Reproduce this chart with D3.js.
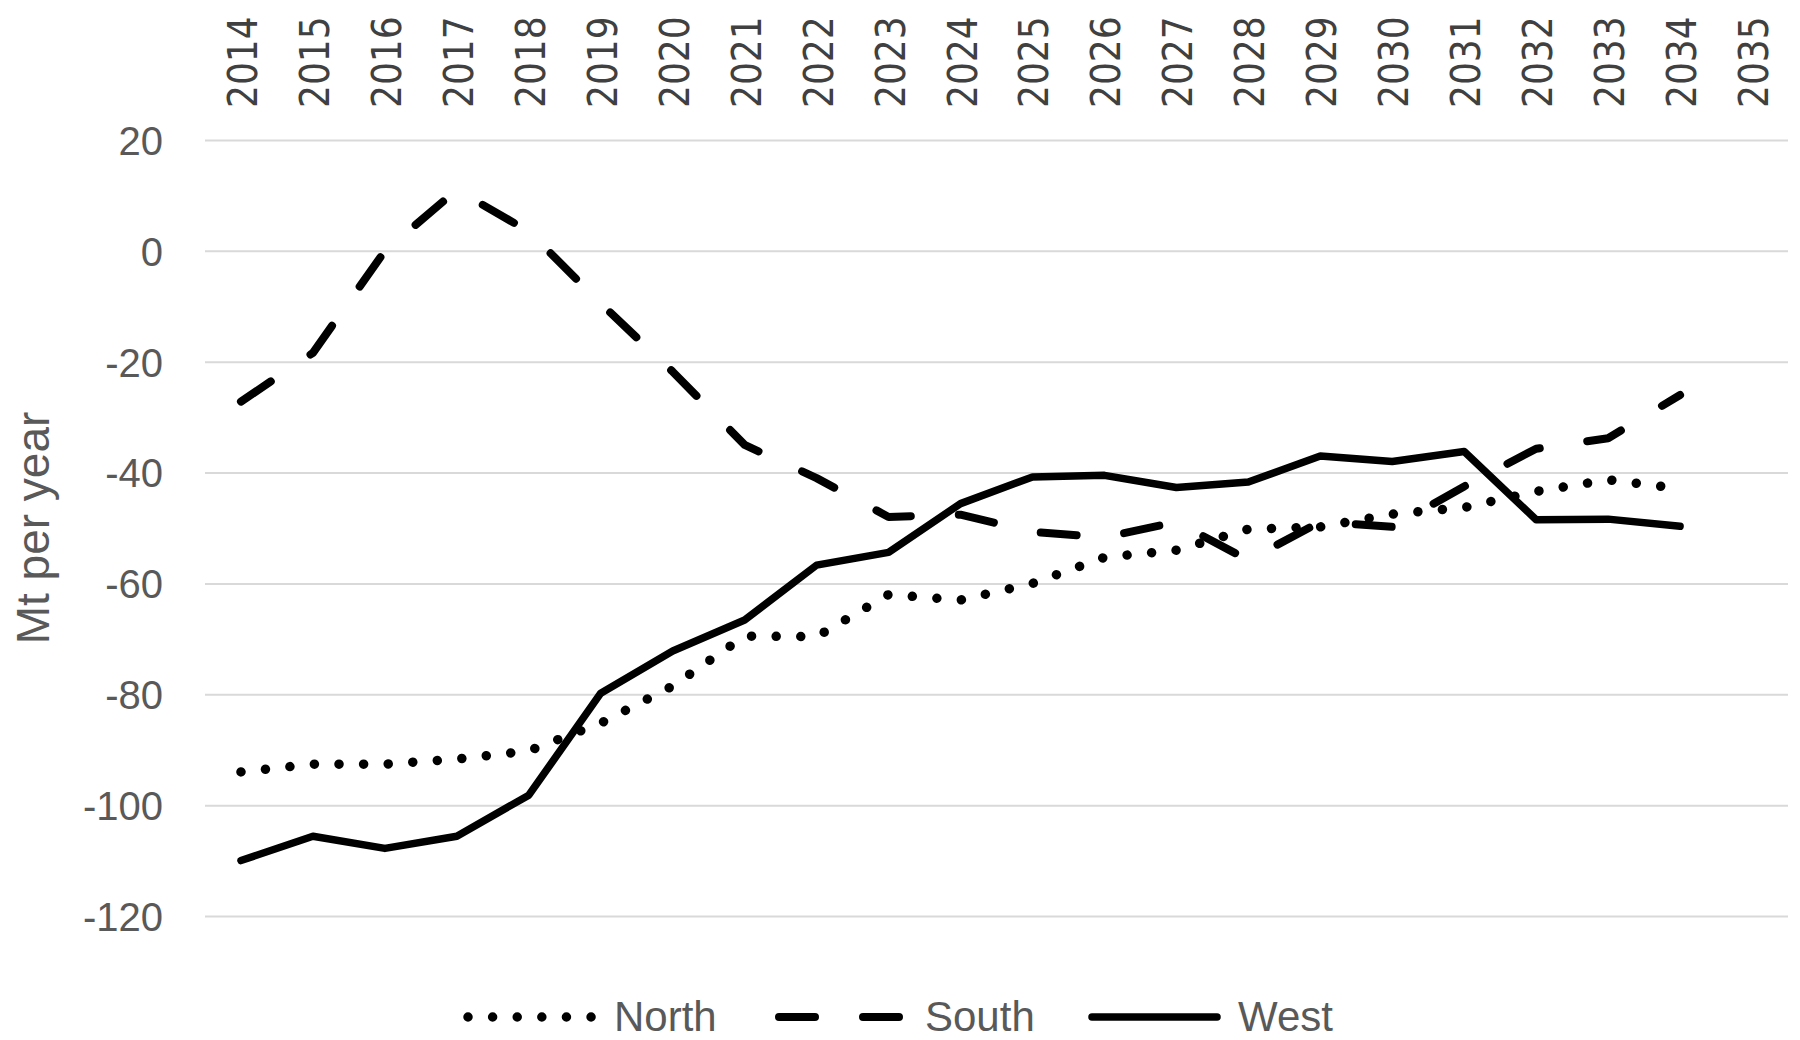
<!DOCTYPE html>
<html>
<head>
<meta charset="utf-8">
<script src="https://cdn.jsdelivr.net/npm/d3@7"></script>
<style>
	html, body { margin: 0; padding: 0; background: #fff; }
	svg { display: block; }
</style>
</head>
<body>
<svg width="1800" height="1040"></svg>
<script>
// chart values
const years = ["2014","2015","2016","2017","2018","2019","2020","2021","2022","2023","2024",
	"2025","2026","2027","2028","2029","2030","2031","2032","2033","2034","2035"]
const yTicks = [20, 0, -20, -40, -60, -80, -100, -120]
const north = [-94,-92.6,-92.6,-91.7,-90.2,-85.2,-78.5,-69.5,-69.6,-62,-63,-60,-55.3,-54,-50.2,-49.8,-47.5,-46.3,-43.4,-41.3,-42.9]
const south = [-27.2,-18.4,0,11,3.5,-9.5,-21.8,-35,-41,-48,-47.6,-50.7,-51.7,-48.9,-55.8,-48.9,-49.8,-42.5,-35.7,-33.8,-26]
const west = [-110,-105.6,-107.8,-105.6,-98.2,-79.8,-72.2,-66.6,-56.7,-54.4,-45.6,-40.8,-40.5,-42.7,-41.7,-37,-38,-36.2,-48.5,-48.4,-49.7]
const seriesNames = ["North","South","West"]

const textCol = "#595959"
const font = "'Liberation Sans', Arial, sans-serif"

const plotL = 205, plotR = 1788, plotT = 140, plotB = 916

const svg = d3.select("svg")

const x = d3.scalePoint().domain(years).range([plotL, plotR]).padding(0.5)
const y = d3.scaleLinear().domain([-120, 20]).range([plotB, plotT])

// gridlines + y labels (plain hyphen like the original)
svg.append("g")
	.attr("transform", `translate(${plotL},0)`)
	.call(d3.axisLeft(y).tickValues(yTicks).tickSize(-(plotR-plotL)).tickPadding(42).tickFormat(d=>String(d)))
	.call(g=>{
		g.select(".domain").remove()
		g.selectAll(".tick line").attr("stroke", "#d9d9d9").attr("stroke-width", 2)
		g.selectAll(".tick text")
			.attr("fill", textCol)
			.attr("font-family", font)
			.attr("font-size", 40)
			.attr("dy", "0.36em")
	})

// year labels on top, rotated
svg.append("g")
	.selectAll("text")
	.data(years)
	.join("text")
	  .attr("transform", d=>`translate(${x(d)+16},108) rotate(-90)`)
	  .attr("fill", "#404040")
	  .attr("font-family", "'DejaVu Sans Condensed', 'Liberation Sans', sans-serif")
	  .attr("font-stretch", "condensed")
	  .attr("font-size", 40)
	  .text(d=>d)

// axis title
svg.append("text")
	.attr("transform", "translate(49,528) rotate(-90)")
	.attr("text-anchor", "middle")
	.attr("fill", textCol)
	.attr("font-family", font)
	.attr("font-size", 46)
	.text("Mt per year")

const styles = {
	North: {dash: "0.01,24.6", width: 9.5},
	South: {dash: "36,48", width: 8},
	West: {dash: null, width: 7.5}
}

const line = d3.line()
	.x((d,i)=>x(years[i]))
	.y(d=>y(d))

const data = [north, south, west]
data.forEach((vals, k)=>{
	let st = styles[seriesNames[k]]
	svg.append("path")
		.datum(vals)
		.attr("d", line)
		.attr("fill", "none")
		.attr("stroke", "#000")
		.attr("stroke-width", st.width)
		.attr("stroke-linecap", "round")
		.attr("stroke-linejoin", "round")
		.attr("stroke-dasharray", st.dash)
})

// legend
const legendX = [468, 779, 1092]
const legendY = 1017
seriesNames.forEach((name, k)=>{
	let st = styles[name]
	let lx = legendX[k]
	svg.append("line")
		.attr("x1", lx)
		.attr("x2", lx+125)
		.attr("y1", legendY)
		.attr("y2", legendY)
		.attr("stroke", "#000")
		.attr("stroke-width", st.width)
		.attr("stroke-linecap", "round")
		.attr("stroke-dasharray", st.dash)
	svg.append("text")
		.attr("x", lx+146)
		.attr("y", 1031)
		.attr("fill", textCol)
		.attr("font-family", font)
		.attr("font-size", 42)
		.text(name)
})
</script>
</body>
</html>
